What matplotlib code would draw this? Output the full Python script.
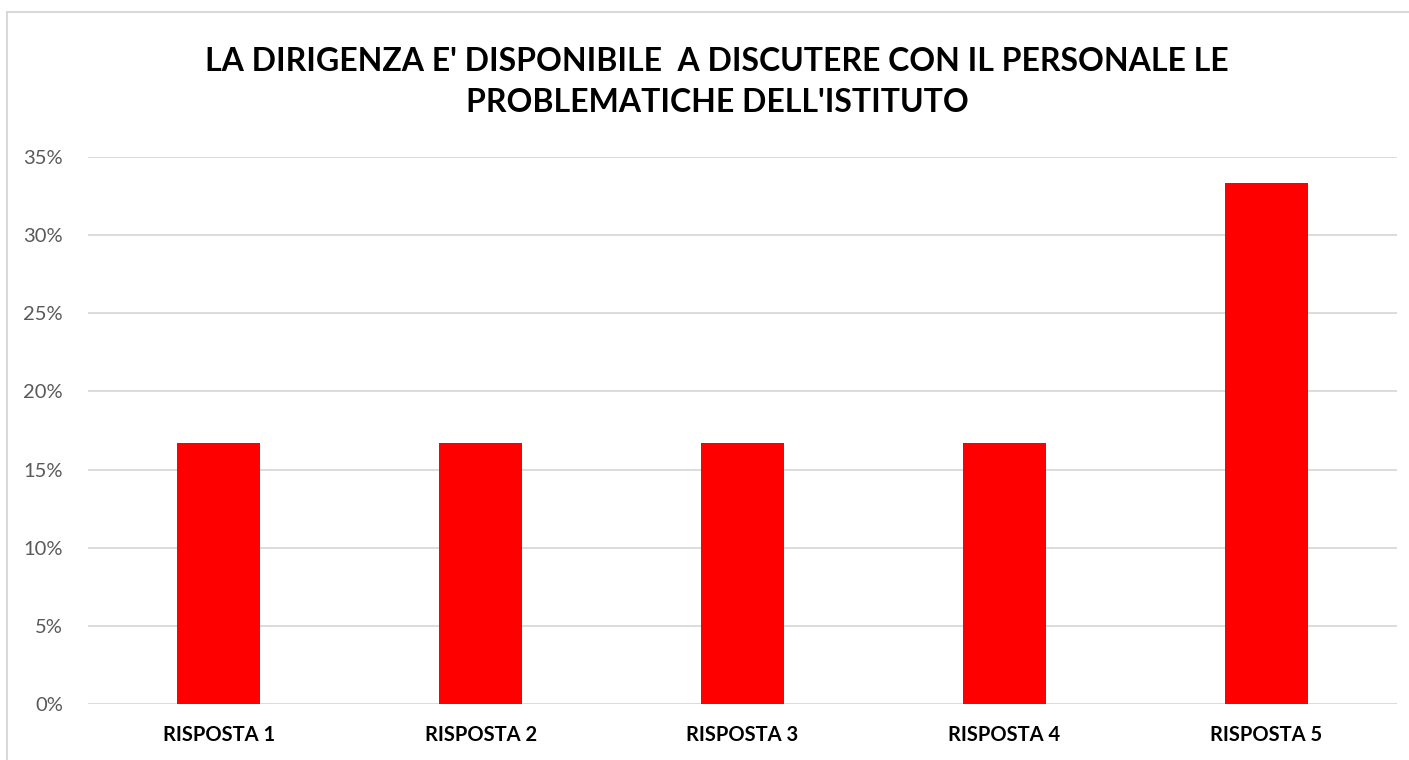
import matplotlib
matplotlib.use('Agg')
import matplotlib.pyplot as plt
from matplotlib.patches import Rectangle
from matplotlib.ticker import PercentFormatter

# Dati del grafico
categorie = ['RISPOSTA 1', 'RISPOSTA 2', 'RISPOSTA 3', 'RISPOSTA 4', 'RISPOSTA 5']
percentuali = [0.1667, 0.1667, 0.1667, 0.1667, 0.3333]
tick_y = [0, 0.05, 0.10, 0.15, 0.20, 0.25, 0.30, 0.35]
titolo = "LA DIRIGENZA E' DISPONIBILE  A DISCUTERE CON IL PERSONALE LE\nPROBLEMATICHE DELL'ISTITUTO"

plt.rcParams['font.family'] = ['Lato', 'DejaVu Sans']

fig = plt.figure(figsize=(14.09, 7.6), dpi=100)
ax = fig.add_axes([88 / 1409, 56 / 760, 1309 / 1409, 547 / 760])

# bordo del grafico
fig.patches.append(Rectangle((7 / 1409, -0.05), 1.1, 1 - 12 / 760 + 0.05,
                             transform=fig.transFigure, fill=False,
                             edgecolor='#d9d9d9', linewidth=1.5))

x = range(len(categorie))
ax.bar(x, percentuali, width=0.317, color='#ff0000', zorder=3)

ax.set_xlim(-0.5, len(categorie) - 0.5)
ax.set_ylim(0, 0.35)
ax.set_yticks(tick_y)
ax.yaxis.set_major_formatter(PercentFormatter(1.0, decimals=0))
ax.set_xticks(list(x))
ax.set_xticklabels(categorie, fontsize=14.5, fontweight='bold', color='black')
ax.tick_params(axis='y', labelsize=14.5, labelcolor='#595959', length=0, pad=18)
ax.tick_params(axis='x', length=0, pad=15)
ax.grid(axis='y', color='#d9d9d9', linewidth=1.3, zorder=0)
for s in ax.spines.values():
    s.set_visible(False)

fig.text(0.509, 1 - 82 / 760, titolo, ha='center', va='center',
         fontsize=23, fontweight='bold', linespacing=1.5)

fig.savefig('out.png', dpi=100)
